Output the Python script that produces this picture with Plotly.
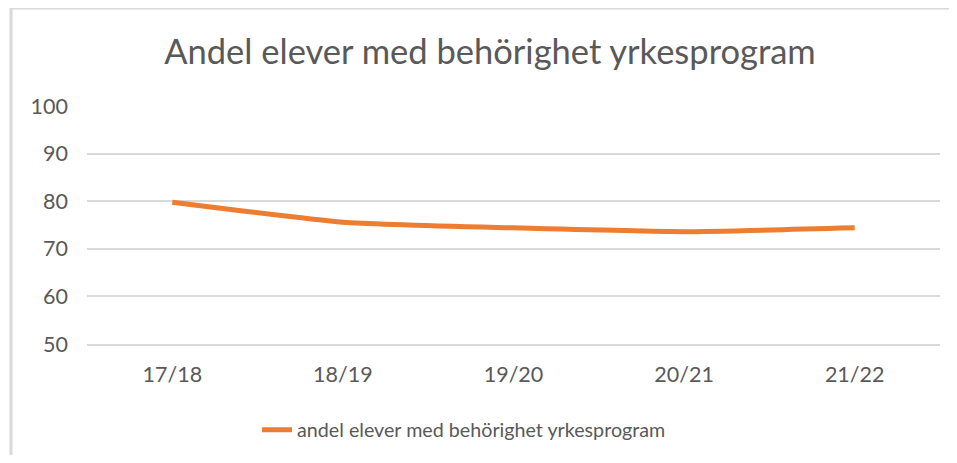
import plotly.graph_objects as go

categories = ["17/18", "18/19", "19/20", "20/21", "21/22"]
values = [79.8, 75.6, 74.4, 73.6, 74.4]
series_name = "andel elever med behörighet yrkesprogram"
title_text = "Andel elever med behörighet yrkesprogram"
y_ticks = [50, 60, 70, 80, 90, 100]

OFF = 8  # page body margin
VW, VH = 957, 463
W, H = VW - 2 * OFF, VH - 2 * OFF
# target pixel geometry in the viewport
PL, PR, PT, PB = 87, 940, 106, 344
ML, MR, MT, MB = PL - OFF, W - (PR - OFF), PT - OFF, H - (PB - OFF)
pw, ph = W - ML - MR, H - MT - MB

def px_x(x):
    return (x - OFF - ML) / pw

def px_y(y):
    return (H - MB - (y - OFF)) / ph

FONT = "Lato"
GRAY = "#595959"
GRID = "#d9d9d9"

fig = go.Figure()
fig.add_trace(go.Scatter(
    x=categories, y=values, mode="lines", name=series_name,
    line=dict(color="#ED7D31", width=5, shape="spline", smoothing=0.5),
    showlegend=True,
))

fig.update_layout(
    width=W, height=H,
    margin=dict(l=ML, r=MR, t=MT, b=MB),
    paper_bgcolor="white", plot_bgcolor="white",
    title=dict(text=title_text, x=(490 - OFF) / W, xref="container", xanchor="center",
               y=1 - (52 - OFF) / H, yref="container", yanchor="middle",
               font=dict(family=FONT, size=34.5, color=GRAY)),
    legend=dict(orientation="h", x=(464 - OFF) / W, xref="container", xanchor="center",
                y=1 - (430 - OFF) / H, yref="container", yanchor="middle",
                font=dict(family=FONT, size=19.7, color=GRAY)),
    xaxis=dict(type="category", range=[-0.5, 4.5], showgrid=False,
               showline=True, linecolor=GRID, linewidth=1.5, ticks="",
               ticklabelstandoff=10,
               tickfont=dict(family=FONT, size=21.5, color=GRAY), fixedrange=True),
    yaxis=dict(range=[50, 100], tickvals=y_ticks, showgrid=True, gridcolor=GRID,
               gridwidth=1.5, zeroline=False, showline=False, ticks="",
               ticklen=0, ticklabelstandoff=18,
               tickfont=dict(family=FONT, size=21.5, color=GRAY),
               fixedrange=True),
    shapes=[
        dict(type="line", xref="paper", yref="paper",
             x0=px_x(11), x1=px_x(11), y0=px_y(480), y1=px_y(8),
             line=dict(color=GRID, width=3)),
        dict(type="line", xref="paper", yref="paper",
             x0=px_x(11), x1=px_x(980), y0=px_y(8), y1=px_y(8),
             line=dict(color=GRID, width=3)),
    ],
)

fig.write_html("out.html", config={"displayModeBar": False})
